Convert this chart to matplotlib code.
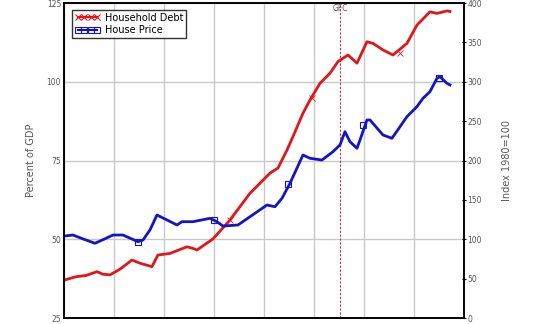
import matplotlib.pyplot as plt

# Household debt, percent of GDP (left axis)
debt_years = [1980.0, 1980.1, 1981.2, 1982.2, 1983.3, 1983.9, 1984.6, 1985.6, 1986.8, 1987.6,
              1988.8, 1989.4, 1990.6, 1991.4, 1992.3, 1992.9, 1993.3, 1994.9, 1996.6, 1998.6,
              2000.6, 2001.4, 2002.3, 2002.9, 2003.9, 2004.6, 2005.6, 2006.6, 2007.4, 2008.4,
              2009.3, 2010.3, 2010.9, 2011.9, 2012.9, 2014.3, 2015.3, 2016.6, 2017.3, 2018.3,
              2018.6]
debt = [37.1, 37.1, 38.1, 38.5, 39.7, 38.9, 38.7, 40.5, 43.4, 42.4,
        41.3, 45.0, 45.5, 46.5, 47.6, 47.1, 46.6, 50.1, 56.1, 64.6,
        71.0, 72.6, 78.3, 82.6, 90.0, 94.2, 99.5, 102.7, 106.4, 108.5,
        105.9, 112.7, 112.2, 110.1, 108.5, 112.2, 118.0, 122.2, 121.7, 122.5,
        122.3]

# House price index, 1980=100 (right axis)
price_years = [1980.0, 1980.9, 1982.0, 1983.1, 1984.0, 1984.9, 1985.9, 1987.4, 1987.9, 1988.6,
               1989.3, 1990.3, 1991.3, 1991.8, 1992.9, 1994.6, 1995.3, 1995.9, 1997.4, 1998.6,
               2000.3, 2001.1, 2001.8, 2002.6, 2003.9, 2004.6, 2005.8, 2006.9, 2007.6, 2008.1,
               2008.6, 2009.3, 2009.6, 2010.3, 2010.6, 2011.9, 2012.8, 2014.3, 2015.3, 2015.9,
               2016.6, 2017.3, 2017.6, 2018.3, 2018.6]
price = [104.0, 105.4, 100.0, 94.9, 100.0, 105.4, 105.4, 96.9, 99.0, 111.8,
         130.8, 124.5, 118.1, 122.3, 122.3, 126.6, 122.3, 116.8, 118.1, 128.6,
         143.5, 141.3, 152.0, 171.0, 207.0, 202.8, 200.6, 211.2, 219.7, 236.6,
         223.9, 215.5, 226.0, 251.5, 251.5, 232.4, 228.2, 255.7, 268.4, 279.0,
         287.4, 304.4, 306.5, 298.0, 296.0]

# marker positions
debt_mark_years = [1996.6, 2004.8, 2013.6]
debt_mark = [56.0, 95.0, 109.0]
price_mark_years = [1987.4, 1995.0, 2002.4, 2009.9, 2017.5]
price_mark = [96.0, 124.0, 170.0, 245.0, 305.0]

gfc_year = 2007.6
xticks = [1980, 1985, 1990, 1995, 2000, 2005, 2010, 2015, 2020]

red = '#e0161b'
blue = '#1414c4'
grey = '#555555'

fig = plt.figure(figsize=(5.33, 3.24), dpi=100)
ax = fig.add_axes([0.120, 0.0185, 0.7505, 0.9722])
ax2 = ax.twinx()

ax.set_xlim(1980, 2020)
ax.set_ylim(25, 125)
ax2.set_ylim(0, 400)

ax.set_xticks(xticks)
ax.set_yticks([25, 50, 75, 100, 125])
ax2.set_yticks([0, 50, 100, 150, 200, 250, 300, 350, 400])
ax.grid(True, color='#c8c8c8', linewidth=1.0)
ax.set_axisbelow(True)

ax.tick_params(axis='y', length=0, pad=2, labelsize=5.5, labelcolor=grey)
# x labels sit mostly below the bottom edge, as in the original crop
ax.tick_params(axis='x', length=0, pad=4, labelsize=6, labelcolor=grey)
ax2.tick_params(axis='y', length=3, direction='inout', pad=1, labelsize=5.5, labelcolor=grey)

for a in (ax, ax2):
    for s in a.spines.values():
        s.set_linewidth(1.2)
        s.set_color('black')

ax.axvline(gfc_year, color='#c0303a', linewidth=0.8, linestyle=(0, (2, 1.5)))
ax.text(gfc_year, 124.6, 'GFC', ha='center', va='top', fontsize=5.5, color=grey)

ax.plot(debt_years, debt, color=red, linewidth=2, label='Household Debt')
ax.plot(debt_mark_years, debt_mark, 'x', color=red, markersize=4, mew=0.6)
ax2.plot(price_years, price, color=blue, linewidth=2, label='House Price')
ax2.plot(price_mark_years, price_mark, 's', mfc='none', mec=blue, markersize=5, mew=0.8)

hd = plt.Line2D([], [], color=red, linewidth=1.5, marker='x', markersize=4, mew=0.8)
hp = plt.Line2D([], [], color=blue, linewidth=1.5, marker='s', mfc='none', markersize=5, mew=0.8)
leg = ax.legend([hd, hp], ['Household Debt', 'House Price'], loc='upper left',
                fontsize=7, numpoints=4, handlelength=2.6, fancybox=False,
                borderpad=0.3, labelspacing=0.25, handletextpad=0.5,
                bbox_to_anchor=(0.008, 0.994))
leg.get_frame().set_edgecolor('black')
leg.get_frame().set_linewidth(1.0)

ax.set_ylabel('Percent of GDP', fontsize=7, color=grey, labelpad=8)
ax2.set_ylabel('Index 1980=100', fontsize=7, color=grey, labelpad=14)

fig.savefig('out.png', dpi=100)
